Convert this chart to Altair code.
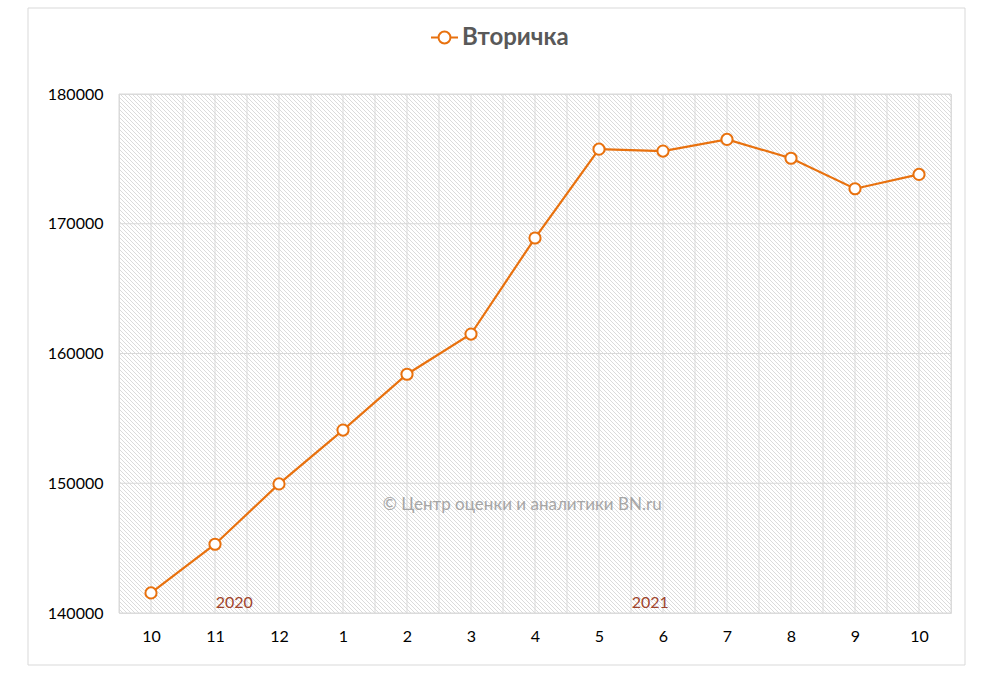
import json
import altair as alt
import numpy as np
import pandas as pd

# ---- data ----
months = ["10", "11", "12", "1", "2", "3", "4", "5", "6", "7", "8", "9", "10"]
values = [141550, 145300, 149950, 154100, 158400, 161500, 168900,
          175750, 175600, 176500, 175050, 172700, 173800]
series_name = "Вторичка"
years = ["2020", "2021"]
year_pos = [1.3, 7.8]
year_val = [140750, 140750]
watermark = "© Центр оценки и аналитики BN.ru"
watermark_pos = [5.8]
watermark_val = [148300]
y_ticks = [140000, 150000, 160000, 170000, 180000]

# ---- layout / style ----
W, H = 832, 519
PAD_L, PAD_T, PAD_R, PAD_B = 119, 94, 43, 62
ORANGE = "#E8710E"
GRID = "#d9d9d9"
FONT = "Lato"

df = pd.DataFrame({"idx": list(range(len(months))), "month": months,
                   "value": values, "series": [series_name] * len(months)})
grid_x = pd.DataFrame({"gx": np.arange(-0.5, len(months), 0.5)})
grid_y = pd.DataFrame({"gy": y_ticks})
years_df = pd.DataFrame({"x": year_pos, "y": year_val, "t": years})
wm_df = pd.DataFrame({"x": watermark_pos, "y": watermark_val, "t": [watermark]})

xs = alt.Scale(domain=[-0.5, len(months) - 0.5], nice=False, zero=False)
ys = alt.Scale(domain=[y_ticks[0], y_ticks[-1]], nice=False, zero=False)

label_expr = ("abs(datum.value % 1) < 0.001 ? " + json.dumps(months) +
              "[round(datum.value)] : ''")

x_axis = alt.Axis(values=[float(v) for v in np.arange(0, len(months), 1.0)],
                  labelExpr=label_expr, grid=False, ticks=False, domain=False,
                  title=None, labelFont=FONT, labelFontSize=16, labelColor="#000000",
                  labelPadding=15, labelOverlap=False, labelFlush=False)
y_axis = alt.Axis(values=y_ticks, format="d", grid=False, ticks=False, domain=False,
                  title=None, labelFont=FONT, labelFontSize=16, labelColor="#000000",
                  labelPadding=16)

# outer frame (stroke only)
frame = alt.Chart(pd.DataFrame({"a": [0]})).mark_rect(
    filled=False, stroke=GRID, strokeWidth=1
).encode(x=alt.value(28 - PAD_L), x2=alt.value(965 - PAD_L),
         y=alt.value(8 - PAD_T), y2=alt.value(665 - PAD_T))

# hatch texture of the plot area (pixel space)
n_hatch = (W + H) // 4 + 2
hatch = alt.Chart(alt.sequence(0, n_hatch, 1, as_="i")).transform_calculate(
    hx0=f"datum.i * 4 - {H}", hx1="datum.i * 4"
).mark_rule(clip=True, stroke="#d2d2d2", strokeWidth=0.8).encode(
    x=alt.X("hx0:Q", scale=None), x2="hx1:Q",
    y=alt.value(0), y2=alt.value(H))

vgrid = alt.Chart(grid_x).mark_rule(stroke=GRID, strokeWidth=1).encode(
    x=alt.X("gx:Q", scale=xs), y=alt.value(0), y2=alt.value(H))
hgrid = alt.Chart(grid_y).mark_rule(stroke=GRID, strokeWidth=1).encode(
    y=alt.Y("gy:Q", scale=ys), x=alt.value(0), x2=alt.value(W))

legend_path = ("M-1,0L-0.44,0M0.44,0A0.44,0.44,0,1,1,-0.44,0"
               "A0.44,0.44,0,1,1,0.44,0M0.44,0L1,0")

line = alt.Chart(df).mark_line(strokeWidth=2.2).encode(
    x=alt.X("idx:Q", scale=xs, axis=x_axis),
    y=alt.Y("value:Q", scale=ys, axis=y_axis),
    color=alt.Color("series:N", scale=alt.Scale(range=[ORANGE]),
                    legend=alt.Legend(orient="none", legendX=311, legendY=-71,
                                      title=None, symbolType=legend_path,
                                      symbolSize=729, symbolStrokeWidth=2,
                                      symbolFillColor="white",
                                      symbolStrokeColor=ORANGE,
                                      labelFont=FONT, labelFontSize=24,
                                      labelFontWeight="bold", labelColor="#595959",
                                      labelOffset=3, padding=0)))

points = alt.Chart(df).mark_point(filled=True, fill="white", stroke=ORANGE,
                                  strokeWidth=2, size=125, opacity=1).encode(
    x=alt.X("idx:Q", scale=xs), y=alt.Y("value:Q", scale=ys))

year_txt = alt.Chart(years_df).mark_text(font=FONT, fontSize=16, color="#A0442C",
                                         baseline="middle").encode(
    x=alt.X("x:Q", scale=xs), y=alt.Y("y:Q", scale=ys), text="t:N")

wm_txt = alt.Chart(wm_df).mark_text(font=FONT, fontSize=17, color="#a6a6a6",
                                    baseline="middle").encode(
    x=alt.X("x:Q", scale=xs), y=alt.Y("y:Q", scale=ys), text="t:N")

chart = alt.layer(frame, hatch, vgrid, hgrid, line, points, year_txt, wm_txt).properties(
    width=W, height=H,
    autosize=alt.AutoSizeParams(type="none"),
    padding={"left": PAD_L, "top": PAD_T, "right": PAD_R, "bottom": PAD_B},
).configure_view(stroke=GRID, strokeWidth=1).configure(background="white")

chart.save("out.html", embed_options={"renderer": "svg", "actions": False})
